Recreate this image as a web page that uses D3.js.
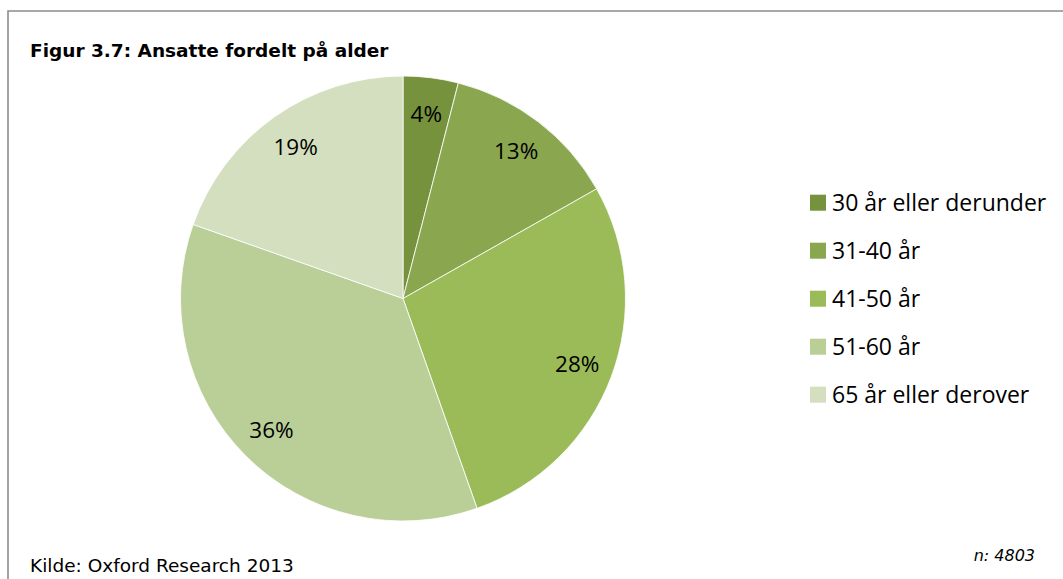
<!DOCTYPE html>
<html><head><meta charset="utf-8">
<script src="https://cdn.jsdelivr.net/npm/d3@7"></script>
<style>body{margin:0;background:#fff}svg{display:block}</style>
</head><body>
<svg id="c" width="1063" height="579"></svg>
<script>
const categories = ["30 år eller derunder","31-40 år","41-50 år","51-60 år","65 år eller derover"];
const values = [4.0, 12.8, 27.8, 35.8, 19.6];
const labels = ["4%","13%","28%","36%","19%"];
const colors = ["#76923c","#8aa64f","#9bbb59","#bace98","#d3dfbf"];
const title = "Figur 3.7: Ansatte fordelt på alder";
const source = "Kilde: Oxford Research 2013";
const nText = "n: 4803";

const svg = d3.select("#c");
svg.append("path").attr("d","M8,580 L8,11 L1064,11").attr("fill","none").attr("stroke","#8c8c8c").attr("stroke-width",1.6);

svg.append("text").attr("x",30).attr("y",57).attr("font-family","DejaVu Sans").attr("font-weight","bold")
  .attr("font-size",18.5).attr("fill","#000").text(title);

const cx = 403, cy = 298.5, r = 222.5;
const pie = d3.pie().sort(null).value(d=>d);
const arcs = pie(values);
const arc = d3.arc().innerRadius(0).outerRadius(r);
const lab = d3.arc().innerRadius(186).outerRadius(186);
const g = svg.append("g").attr("transform",`translate(${cx},${cy})`);
g.selectAll("path").data(arcs).join("path").attr("d",arc).attr("fill",(d,i)=>colors[i])
  .attr("stroke","#fff").attr("stroke-width",0.8);
g.selectAll("text").data(arcs).join("text").attr("transform",d=>`translate(${lab.centroid(d)})`)
  .attr("text-anchor","middle").attr("dy","0.35em").attr("font-family","Open Sans").attr("font-size",22.5)
  .attr("fill","#000").text((d,i)=>labels[i]);

const y = d3.scalePoint().domain(categories).range([202.7,394.7]);
const lg = svg.append("g");
categories.forEach((c,i)=>{
  lg.append("rect").attr("x",810).attr("y",y(c)-8).attr("width",16).attr("height",16).attr("fill",colors[i]);
  lg.append("text").attr("x",832).attr("y",y(c)).attr("dy","0.36em").attr("font-family","Open Sans")
    .attr("font-size",23).attr("fill","#000").text(c);
});

svg.append("text").attr("x",30).attr("y",572).attr("font-family","DejaVu Sans").attr("font-size",18.5).attr("fill","#000").text(source);
svg.append("text").attr("x",1035).attr("y",561).attr("text-anchor","end").attr("font-family","DejaVu Sans").attr("font-style","italic").attr("font-size",16).attr("fill","#000").text(nText);
</script>
</body></html>
